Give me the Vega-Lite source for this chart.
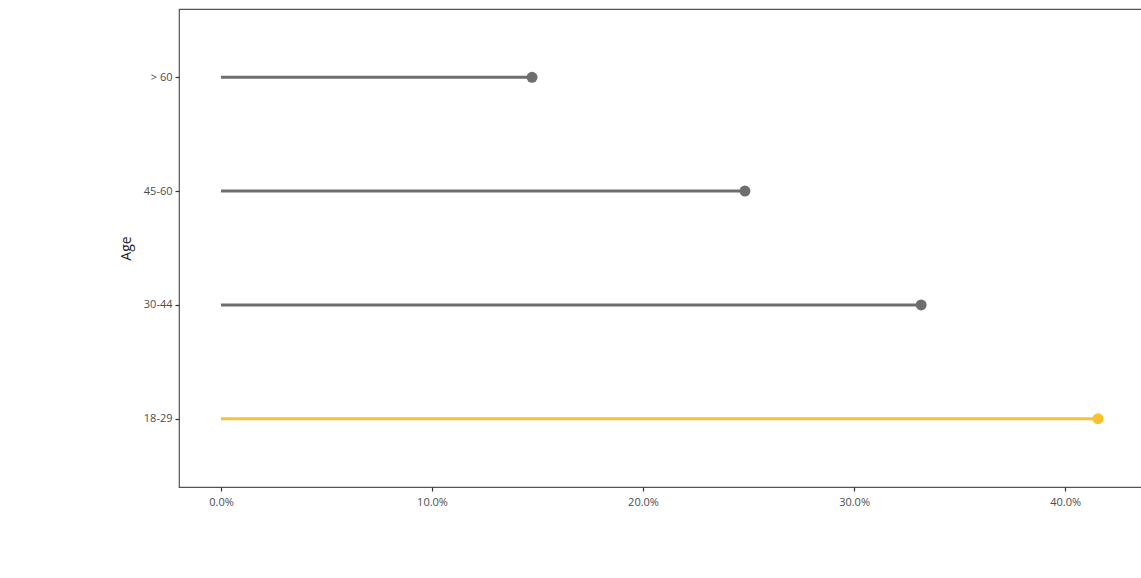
{
  "$schema": "https://vega.github.io/schema/vega-lite/v6.json",
  "autosize": {"type": "none"},
  "width": 965,
  "height": 478,
  "padding": {"left": 179, "top": 9, "right": -3, "bottom": 91},
  "background": "white",
  "config": {
    "font": "Open Sans",
    "view": {"stroke": "#555555", "strokeWidth": 1.2},
    "axis": {
      "grid": false,
      "domain": false,
      "tickColor": "#333333",
      "tickSize": 4,
      "tickWidth": 1.2,
      "labelColor": "#4d4d4d",
      "labelFont": "Open Sans",
      "labelFontSize": 11,
      "titleFont": "Open Sans",
      "titleFontSize": 14,
      "titleFontWeight": "normal",
      "titleColor": "#1a1a1a"
    }
  },
  "data": {
    "values": [
      {"age": "18-29", "share": 0.4156, "group": "highlight"},
      {"age": "30-44", "share": 0.3318, "group": "other"},
      {"age": "45-60", "share": 0.2483, "group": "other"},
      {"age": "> 60", "share": 0.1474, "group": "other"}
    ]
  },
  "encoding": {
    "y": {
      "field": "age",
      "type": "ordinal",
      "sort": ["> 60", "45-60", "30-44", "18-29"],
      "scale": {"type": "point", "padding": 0.6},
      "axis": {"title": "Age", "labelPadding": 3, "titlePadding": 10}
    },
    "x": {
      "field": "share",
      "type": "quantitative",
      "scale": {"domain": [-0.0199, 0.4374], "nice": false, "zero": false},
      "axis": {
        "title": null,
        "format": ".1%",
        "values": [0, 0.1, 0.2, 0.3, 0.4],
        "labelPadding": 5
      }
    },
    "color": {
      "field": "group",
      "type": "nominal",
      "scale": {"domain": ["highlight", "other"], "range": ["#FBC02D", "#6e6e6e"]},
      "legend": null
    }
  },
  "layer": [
    {
      "mark": {"type": "rule", "strokeWidth": 3},
      "encoding": {
        "x2": {"datum": 0}
      }
    },
    {
      "mark": {"type": "point", "filled": true, "opacity": 1, "size": 120}
    }
  ]
}
